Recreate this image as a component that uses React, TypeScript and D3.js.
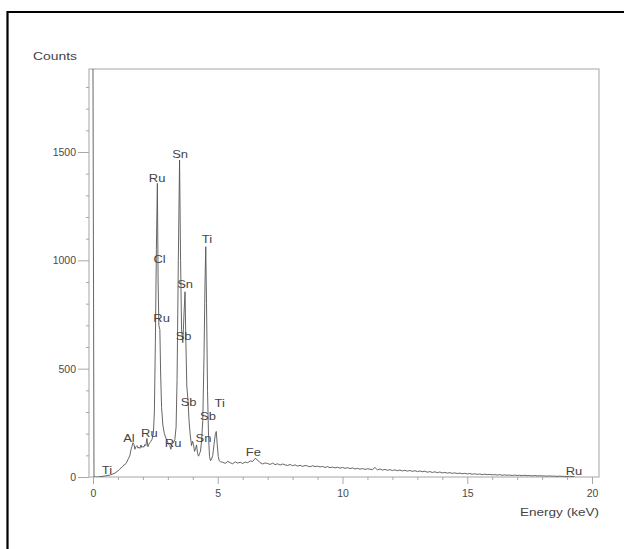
import React, { useEffect, useRef } from 'react';
import * as d3 from 'd3';

// peak region of the EDS spectrum (keV, counts)
const peakEnergy = [
  0.0, 0.04, 0.2, 0.44, 0.68, 0.88, 1.0, 1.08, 1.16, 1.24, 1.32, 1.36, 1.42, 1.48, 1.52, 1.56, 1.6, 1.64,
  1.68, 1.72, 1.76, 1.8, 1.84, 1.88, 1.92, 1.96, 2.0, 2.04, 2.08, 2.12, 2.16, 2.2, 2.24, 2.28, 2.32, 2.36,
  2.42, 2.46, 2.5, 2.54, 2.58, 2.61, 2.64, 2.68, 2.71, 2.75, 2.8, 2.86, 2.92, 2.98, 3.04, 3.08, 3.12, 3.16,
  3.22, 3.28, 3.33, 3.37, 3.42, 3.47, 3.51, 3.55, 3.6, 3.65, 3.69, 3.72, 3.76, 3.81, 3.85, 3.9, 3.95, 3.99,
  4.03, 4.07, 4.11, 4.15, 4.19, 4.23, 4.27, 4.31, 4.35, 4.4, 4.45, 4.49, 4.52, 4.55, 4.59, 4.63, 4.67, 4.71,
  4.75, 4.8, 4.85, 4.9, 4.94, 4.98, 5.02, 5.06, 5.12,
];
const peakCounts = [
  1883, 0, 0, 4, 9, 18, 28, 38, 45, 55, 62, 70, 85, 100, 125, 140, 158, 150,
  128, 140, 145, 133, 138, 132, 148, 136, 142, 138, 150, 145, 178, 140, 152, 158, 165, 172,
  200, 300, 620, 1050, 1355, 900, 700, 680, 480, 320, 240, 200, 180, 165, 150, 145, 128, 150,
  158, 172, 230, 450, 1000, 1463, 1000, 680, 620, 760, 855, 640, 420, 350, 260, 190, 145, 165,
  150, 118, 130, 148, 110, 96, 108, 120, 165, 260, 560, 900, 1063, 800, 400, 190, 95, 75,
  82, 100, 150, 195, 210, 150, 95, 75, 70,
];

// background channels from 5.2 keV, 0.1 keV apart
const bgStart = 5.2;
const bgStep = 0.1;
const bgCounts = [
  68, 63, 72, 66, 61, 70, 64, 68, 62,
  69, 66, 74, 72, 86, 78, 66, 60, 65, 62,
  58, 64, 57, 61, 55, 60, 56, 53, 58, 52,
  56, 50, 54, 49, 53, 51, 47, 52, 48, 50,
  46, 49, 44, 48, 43, 46, 42, 45, 41, 44,
  40, 43, 39, 42, 37, 40, 36, 39, 35, 38,
  36, 34, 44, 33, 37, 32, 35, 31, 34, 30,
  33, 29, 32, 28, 31, 27, 30, 26, 29, 25,
  28, 24, 27, 22, 25, 21, 24, 20, 23, 19,
  21, 18, 20, 17, 19, 16, 18, 15, 17, 14,
  16, 13, 15, 12, 14, 11, 13, 11, 12, 10,
  11, 9, 11, 8, 10, 8, 9, 7, 9, 7,
  8, 6, 8, 6, 7, 5, 7, 5, 6, 5,
  5, 4, 5, 4, 4, 3, 4, 3, 3, 2,
  3, 2, 2,
];

// peak labels: element, energy (keV), counts level of the text baseline
const labelText = ['Sn', 'Ru', 'Ti', 'Cl', 'Sn', 'Ru', 'Sb', 'Sb', 'Ti', 'Sb', 'Sn', 'Ru', 'Ru', 'Al', 'Ti', 'Fe', 'Ru'];
const labelEnergy = [3.49, 2.57, 4.57, 2.67, 3.69, 2.75, 3.63, 3.83, 5.08, 4.61, 4.43, 3.21, 2.26, 1.44, 0.56, 6.43, 19.28];
const labelCounts = [1472, 1362, 1080, 988, 872, 715, 632, 328, 322, 262, 162, 138, 185, 162, 14, 97, 9];

const xMajor = [0, 5, 10, 15, 20];
const xMinor = [1, 2, 3, 4, 6, 7, 8, 9, 11, 12, 13, 14, 16, 17, 18, 19];
const yMajor = [0, 500, 1000, 1500];
const yMinor = [100, 200, 300, 400, 600, 700, 800, 900, 1100, 1200, 1300, 1400, 1600, 1700, 1800];

const W = 624;
const H = 549;
const FONT = '"Liberation Sans", Arial, sans-serif';

const Spectrum = () => {
  const svgRef = useRef<SVGSVGElement>(null);

  useEffect(() => {
    const svg = d3.select(svgRef.current);
    svg.selectAll('*').remove();

    const x = d3.scaleLinear().domain([-0.16, 20.28]).range([89, 599]);
    const y = d3.scaleLinear().domain([0, 1883]).range([477, 69]);

    const points: [number, number][] = peakEnergy.map((e, i) => [e, peakCounts[i]]);
    bgCounts.forEach((c, i) => points.push([bgStart + i * bgStep, c]));

    svg.append('rect').attr('width', W).attr('height', H).attr('fill', '#fff');

    // scanned page border
    svg
      .append('path')
      .attr('d', `M7.5,${H + 5} V12 H${W + 5}`)
      .attr('fill', 'none')
      .attr('stroke', '#000')
      .attr('stroke-width', 2.2);

    svg
      .append('clipPath')
      .attr('id', 'plot-clip')
      .append('rect')
      .attr('x', x.range()[0])
      .attr('y', y.range()[1])
      .attr('width', x.range()[1] - x.range()[0])
      .attr('height', y.range()[0] - y.range()[1]);

    // plot frame
    svg
      .append('rect')
      .attr('x', x.range()[0])
      .attr('y', y.range()[1])
      .attr('width', x.range()[1] - x.range()[0])
      .attr('height', y.range()[0] - y.range()[1])
      .attr('fill', 'none')
      .attr('stroke', '#b4b4b4')
      .attr('stroke-width', 1.2);

    const yAxis = svg.append('g').attr('transform', `translate(${x.range()[0]},0)`);
    yAxis.call(d3.axisLeft(y).tickValues(yMajor).tickFormat(d3.format('d')).tickSize(11).tickPadding(2));
    yAxis.append('g').call(d3.axisLeft(y).tickValues(yMinor).tickSize(3).tickFormat(() => ''));

    const xAxis = svg.append('g').attr('transform', `translate(0,${y.range()[0]})`);
    xAxis.call(d3.axisBottom(x).tickValues(xMajor).tickFormat(d3.format('d')).tickSize(7).tickPadding(6));
    xAxis.append('g').call(d3.axisBottom(x).tickValues(xMinor).tickSize(3).tickFormat(() => ''));

    svg.selectAll('.domain').remove();
    svg.selectAll('.tick line').attr('stroke', '#a8a8a8');
    svg
      .selectAll('.tick text')
      .attr('fill', '#4a4a4a')
      .attr('font-family', FONT)
      .attr('font-size', 10.5);

    svg
      .append('path')
      .datum(points)
      .attr('clip-path', 'url(#plot-clip)')
      .attr('fill', 'none')
      .attr('stroke', '#555')
      .attr('stroke-width', 0.9)
      .attr('stroke-linejoin', 'round')
      .attr(
        'd',
        d3
          .line()
          .x((d) => x(d[0]))
          .y((d) => y(d[1])),
      );

    svg
      .selectAll('text.peak')
      .data(labelText)
      .join('text')
      .attr('class', 'peak')
      .attr('transform', (d, i) => `translate(${x(labelEnergy[i])},${y(labelCounts[i])}) scale(1.18,1)`)
      .attr('text-anchor', 'middle')
      .attr('font-family', FONT)
      .attr('font-size', 11)
      .attr('fill', '#444')
      .text((d) => d);

    svg
      .append('text')
      .attr('x', 33)
      .attr('y', 60)
      .attr('textLength', 44)
      .attr('lengthAdjust', 'spacingAndGlyphs')
      .attr('font-family', FONT)
      .attr('font-size', 11.5)
      .attr('fill', '#444')
      .text('Counts');

    svg
      .append('text')
      .attr('x', x.range()[1])
      .attr('y', 516)
      .attr('text-anchor', 'end')
      .attr('textLength', 79)
      .attr('lengthAdjust', 'spacingAndGlyphs')
      .attr('font-family', FONT)
      .attr('font-size', 11.5)
      .attr('fill', '#444')
      .text('Energy (keV)');
  }, []);

  return <svg ref={svgRef} width={W} height={H} style={{ position: 'absolute', left: 0, top: 0 }} />;
};

export default function App() {
  return <Spectrum />;
}
